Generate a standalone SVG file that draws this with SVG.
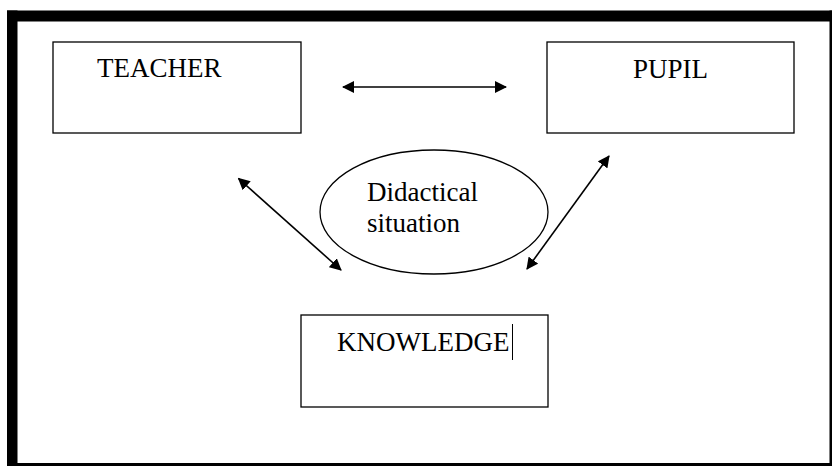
<svg xmlns="http://www.w3.org/2000/svg" width="832" height="466" viewBox="0 0 832 466">
<style>
.box{fill:#fff;stroke:#000;stroke-width:1.3}
.lbl{font-family:"Liberation Serif","Times New Roman",serif;font-size:27px;fill:#000}
.con{stroke:#000;stroke-width:1.6;fill:none;marker-start:url(#ah);marker-end:url(#ah)}
</style>
<defs>
<marker id="ah" viewBox="0 0 12 12" refX="11" refY="6" markerWidth="12" markerHeight="12" markerUnits="userSpaceOnUse" orient="auto-start-reverse">
<path d="M0,0 L12,6 L0,12 Z" fill="#000"/>
</marker>
</defs>
<rect x="0" y="0" width="832" height="466" fill="#fff"/>
<g id="frame">
<rect x="7" y="10.5" width="825" height="11" fill="#000"/>
<rect x="7" y="10.5" width="10.5" height="455.5" fill="#000"/>
<rect x="829.5" y="10.5" width="2.5" height="455.5" fill="#000"/>
<rect x="7" y="463" width="825" height="3" fill="#000"/>
</g>
<g id="teacher">
<rect class="box" x="53" y="42" width="248" height="91"/>
<text class="lbl" x="97" y="77">TEACHER</text>
</g>
<g id="pupil">
<rect class="box" x="547" y="42" width="247" height="91"/>
<text class="lbl" x="633" y="78">PUPIL</text>
</g>
<g id="situation">
<ellipse cx="434" cy="212" rx="114" ry="62" fill="#fff" stroke="#000" stroke-width="1.3"/>
<text class="lbl" x="367" y="201">Didactical</text>
<text class="lbl" x="367" y="232">situation</text>
</g>
<g id="knowledge">
<rect class="box" x="301" y="315" width="247" height="92"/>
<text class="lbl" x="337" y="351">KNOWLEDGE</text>
<line x1="512.5" y1="324" x2="512.5" y2="360" stroke="#000" stroke-width="1"/>
</g>
<g id="connectors">
<line class="con" x1="343" y1="87" x2="506" y2="87"/>
<line class="con" x1="238.5" y1="178.5" x2="341" y2="270"/>
<line class="con" x1="609" y1="156" x2="527" y2="269"/>
</g>
</svg>
